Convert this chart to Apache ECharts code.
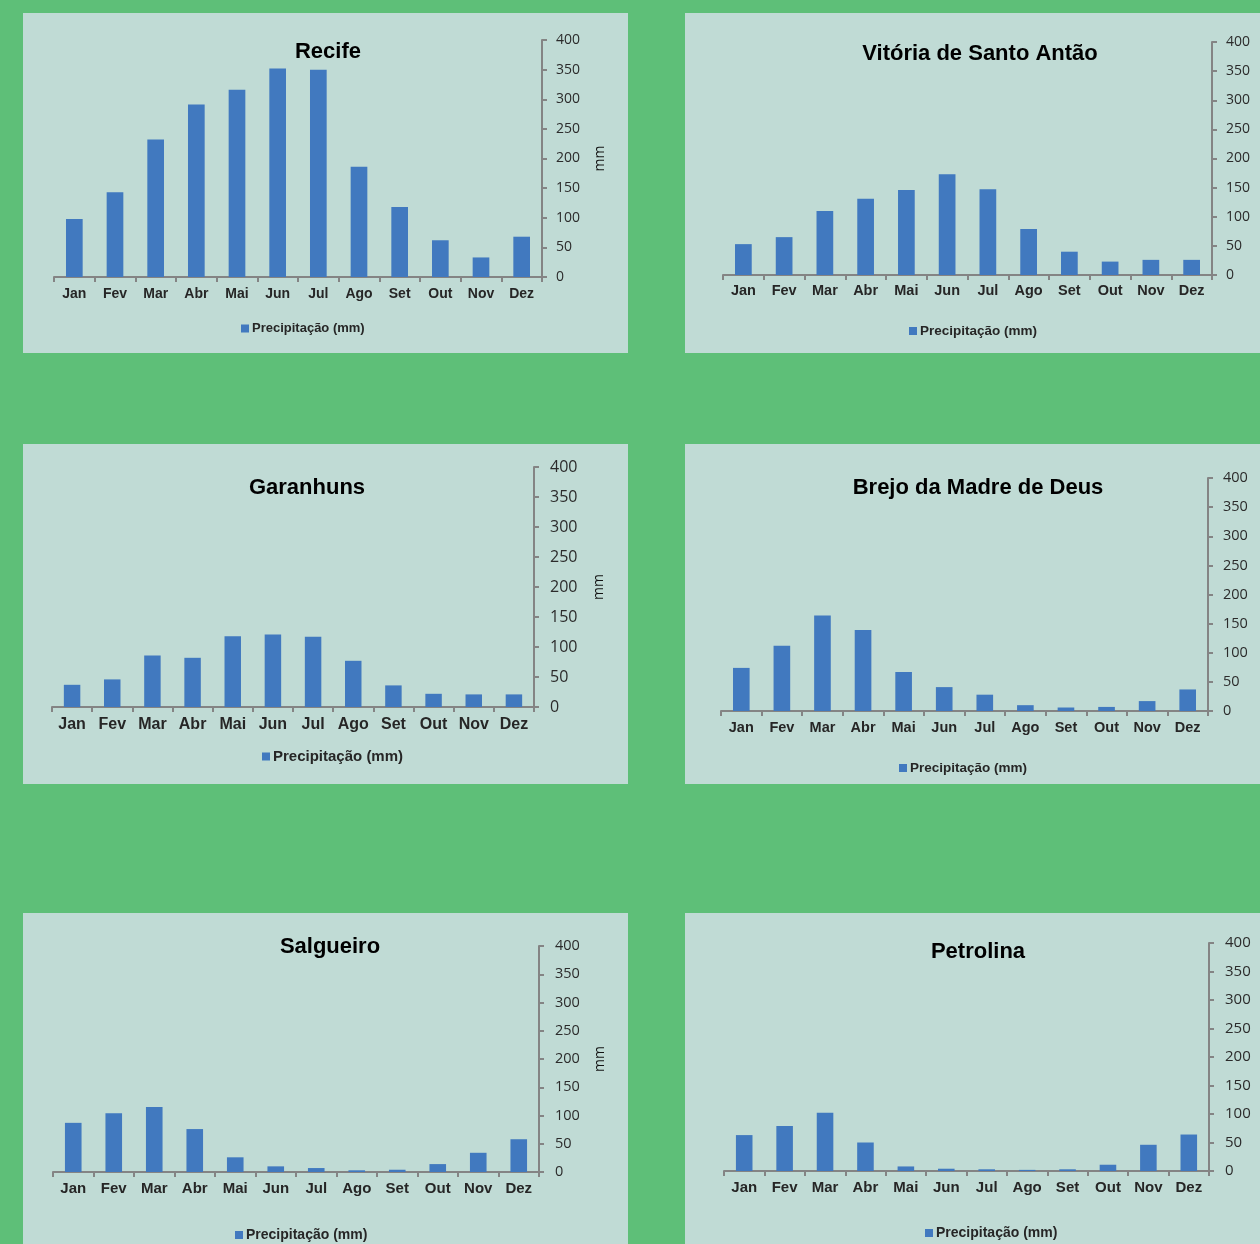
<!DOCTYPE html>
<html>
<head>
<meta charset="utf-8">
<script src="https://cdn.jsdelivr.net/npm/echarts@6/dist/echarts.min.js"></script>
<style>
html, body { margin: 0; padding: 0; width: 1260px; height: 1244px; overflow: hidden; background: #5ebf78; }
.panel { position: absolute; width: 605px; height: 340px; background: #c0dbd5; }
</style>
</head>
<body>
<div class="panel" id="p0" style="left:23px;top:13px"></div>
<div class="panel" id="p1" style="left:685px;top:13px"></div>
<div class="panel" id="p2" style="left:23px;top:444px"></div>
<div class="panel" id="p3" style="left:685px;top:444px"></div>
<div class="panel" id="p4" style="left:23px;top:913px"></div>
<div class="panel" id="p5" style="left:685px;top:913px"></div>
<script>
  var months = ['Jan', 'Fev', 'Mar', 'Abr', 'Mai', 'Jun', 'Jul', 'Ago', 'Set', 'Out', 'Nov', 'Dez'];
  var cities = ['Recife', 'Vitória de Santo Antão', 'Garanhuns', 'Brejo da Madre de Deus', 'Salgueiro', 'Petrolina'];
  var recife = [98, 143, 232, 291, 316, 352, 350, 186, 118, 62, 33, 68];
  var vitoria = [53, 65, 110, 131, 146, 173, 147, 79, 40, 23, 26, 26];
  var garanhuns = [37, 46, 86, 82, 118, 121, 117, 77, 36, 22, 21, 21];
  var brejo = [74, 112, 164, 139, 67, 41, 28, 10, 6, 7, 17, 37];
  var salgueiro = [87, 104, 115, 76, 26, 10, 7, 3, 4, 14, 34, 58];
  var petrolina = [63, 79, 102, 50, 8, 4, 3, 2, 3, 11, 46, 64];
  var yMin = 0, yMax = 400, yStep = 50;
  var seriesName = 'Precipitação (mm)';
  var unitName = 'mm';

  var allValues = [recife, vitoria, garanhuns, brejo, salgueiro, petrolina];

  // layout of each panel (px, relative to the panel box)
  var layouts = [
    { grid: [27, 86, 76, 31], title: [305, 41], legend: [218, 317], xFont: 14, yFont: 14, legFont: 13, xMargin: 10, yMargin: 14, nameGap: 51 },
    { grid: [29, 78, 78, 38], title: [295, 43], legend: [224, 319], xFont: 14.5, yFont: 14, legFont: 13.5, xMargin: 8, yMargin: 14, nameGap: 49 },
    { grid: [23, 94, 77, 29], title: [284, 46], legend: [239, 313], xFont: 16, yFont: 16, legFont: 15, xMargin: 10, yMargin: 16, nameGap: 58 },
    { grid: [34, 82, 73, 36], title: [293, 46], legend: [214, 325], xFont: 14.5, yFont: 14.5, legFont: 13.5, xMargin: 9, yMargin: 15, nameGap: 49 },
    { grid: [33, 89, 81, 30], title: [307, 36], legend: [212, 323], xFont: 15, yFont: 14.5, legFont: 14, xMargin: 9, yMargin: 16, nameGap: 54 },
    { grid: [30, 81, 82, 39], title: [293, 41], legend: [240, 321], xFont: 15, yFont: 15, legFont: 14, xMargin: 9, yMargin: 16, nameGap: 48 }
  ];

  function buildOption(i) {
    var l = layouts[i];
    return {
      animation: false,
      title: {
        text: cities[i],
        left: l.title[0],
        top: l.title[1] - 13,
        textAlign: 'center',
        padding: 0,
        textStyle: {
          fontFamily: 'Liberation Sans',
          fontWeight: 'bold',
          fontSize: 22,
          color: '#000'
        }
      },
      legend: {
        data: [seriesName],
        left: l.legend[0],
        top: l.legend[1] - 8,
        padding: 0,
        icon: 'rect',
        itemWidth: 8,
        itemHeight: 8,
        itemGap: 4,
        textStyle: {
          fontFamily: 'Liberation Sans',
          fontWeight: 'bold',
          fontSize: l.legFont,
          color: '#262626',
          padding: [0, 0, 0, -2]
        }
      },
      grid: {
        top: l.grid[0],
        right: l.grid[1],
        bottom: l.grid[2],
        left: l.grid[3]
      },
      xAxis: {
        type: 'category',
        data: months,
        axisLine: { lineStyle: { color: '#848484', width: 2 } },
        axisTick: { show: true, length: 5, lineStyle: { color: '#848484', width: 2 } },
        axisLabel: {
          interval: 0,
          margin: l.xMargin,
          fontFamily: 'Liberation Sans',
          fontWeight: 'bold',
          fontSize: l.xFont,
          color: '#262626'
        }
      },
      yAxis: {
        type: 'value',
        position: 'right',
        min: yMin,
        max: yMax,
        interval: yStep,
        name: unitName,
        nameLocation: 'middle',
        nameRotate: 90,
        nameGap: l.nameGap,
        nameTextStyle: {
          fontFamily: 'Open Sans',
          fontSize: 14,
          color: '#111'
        },
        splitLine: { show: false },
        axisLine: { show: true, lineStyle: { color: '#848484', width: 2 } },
        axisTick: { show: true, length: 5, lineStyle: { color: '#848484', width: 2 } },
        axisLabel: {
          margin: l.yMargin,
          fontFamily: 'Open Sans',
          fontSize: l.yFont,
          color: '#2b2b2b'
        }
      },
      series: [{
        name: seriesName,
        type: 'bar',
        data: allValues[i],
        barWidth: '41%',
        itemStyle: { color: '#4179bf' }
      }]
    };
  }

  for (var i = 0; i < 6; i++) {
    var chart = echarts.init(document.getElementById('p' + i));
    chart.setOption(buildOption(i), true);
  }
</script>
</body>
</html>
